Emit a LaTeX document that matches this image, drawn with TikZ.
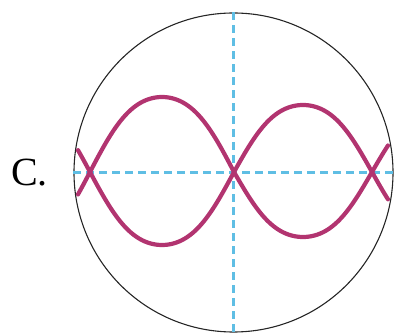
\documentclass[tikz,border=0pt]{standalone}
\usepackage{fontspec}
\setmainfont{Liberation Serif}
\definecolor{wavecol}{RGB}{178,52,112}
\definecolor{axiscol}{RGB}{95,190,228}
\begin{document}
\begin{tikzpicture}[x=1pt, y=-1pt,
  declare function={wv(\t)=(sin(\t)+0.04*sin(3*\t))/0.96;},
  dial/.style={circle, draw=black!85, line width=1.1pt, minimum size=319pt, inner sep=0pt},
  axis/.style={axiscol, line width=2.6pt, dash pattern=on 8pt off 5pt},
  wave/.style={wavecol, line width=4.2pt, line cap=round, line join=round},
]
  \useasboundingbox (0,0) rectangle (397,334);

  % label
  \node[anchor=base west, inner sep=0pt, font=\fontsize{40}{40}\selectfont] (lbl) at (11,186) {C.};

  % screen + axes
  \node[dial] (scr) at (233.5,172.5) {};
  \draw[axis] (scr.north) -- (scr.south);
  \draw[axis] (scr.west) -- (scr.east);

  % traces
  \draw[wave] plot[domain=78:234, samples=90] (\x, {172-75*wv((\x-90)/144*180)})
    -- plot[domain=234:388, samples=90] (\x, {172+65*wv((\x-234)/138*180)});
  \draw[wave] plot[domain=78:234, samples=90] (\x, {172+73*wv((\x-90)/144*180)})
    -- plot[domain=234:388, samples=90] (\x, {172-67*wv((\x-234)/138*180)});
\end{tikzpicture}
\end{document}
